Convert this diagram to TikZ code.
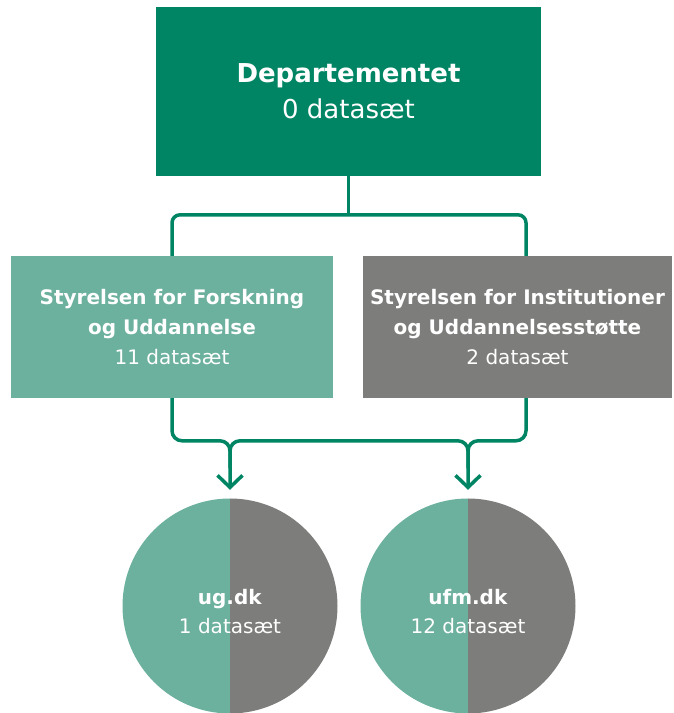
\documentclass[tikz,border=0pt]{standalone}
\usepackage{fontspec}
\setmainfont{DejaVu Sans}
\usepackage{tikz}
\usetikzlibrary{arrows.meta,positioning,calc}
\usepackage{xcolor}
\definecolor{ufmGreen}{RGB}{0,133,100}
\definecolor{ufmLight}{RGB}{108,176,158}
\definecolor{ufmGray}{RGB}{125,125,123}

\begin{document}
\begin{tikzpicture}[x=1pt, y=1pt,
  box/.style={rectangle, fill=#1, text=white, align=center,
              inner sep=0pt, font=\fontsize{20}{30}\selectfont},
  dot/.style={circle, minimum size=215pt, inner sep=0pt},
  conn/.style={ufmGreen, line width=3.5pt, rounded corners=8pt},
  arr/.style={conn, rounded corners=10pt, shorten >=8.5pt,
              -{Straight Barb[length=12pt, width=25pt]}}
]
  \useasboundingbox (0,0) rectangle (674,713);

  \node[box=ufmGreen, minimum width=385pt, minimum height=169pt,
        font=\fontsize{26}{36}\selectfont] (dep) at (348.5,621.5)
    {\textbf{Departementet}\\0 datasæt};
  \node[box=ufmLight, minimum width=322pt, minimum height=142pt]
    (sfu) at (172,386)
    {\textbf{Styrelsen for Forskning}\\\textbf{og Uddannelse}\\11 datasæt};
  \node[box=ufmGray, minimum width=309pt, minimum height=142pt]
    (sfi) at (517.5,386)
    {\textbf{Styrelsen for Institutioner}\\\textbf{og Uddannelsesstøtte}\\2 datasæt};

  % split circles
  \foreach \n/\x/\site/\cnt in {ug/230/ug.dk/1, ufm/468/ufm.dk/12} {
    \fill[ufmLight] (\x,214.5) arc[start angle=90, end angle=270, radius=107.5] -- cycle;
    \fill[ufmGray] (\x,-0.5) arc[start angle=-90, end angle=90, radius=107.5] -- cycle;
    \node[dot] (\n) at (\x,107) {};
    \node[text=white, align=center, font=\fontsize{20}{29}\selectfont]
      (\n-txt) at (\x,101.5) {\textbf{\site}\\\cnt{} datasæt};
  }

  \draw[conn] (dep.south) -- ++(0,-39);
  \draw[conn] (sfu.north) |- ($(sfi.north)+(8.5,41)$) -- ($(sfi.north)+(8.5,0)$);

  \draw[arr] (sfu.south) |- ($(ug.north)+(0,57.5)$) -- (ug.north);
  \draw[arr] ($(sfi.south)+(8.5,0)$) |- ($(ufm.north)+(0,57.5)$) -- (ufm.north);
  \draw[conn, rounded corners=10pt] ($(ug.north)+(0,30)$) -- ($(ug.north)+(0,57.5)$)
    -- ($(ufm.north)+(0,57.5)$) -- ($(ufm.north)+(0,30)$);
\end{tikzpicture}
\end{document}
